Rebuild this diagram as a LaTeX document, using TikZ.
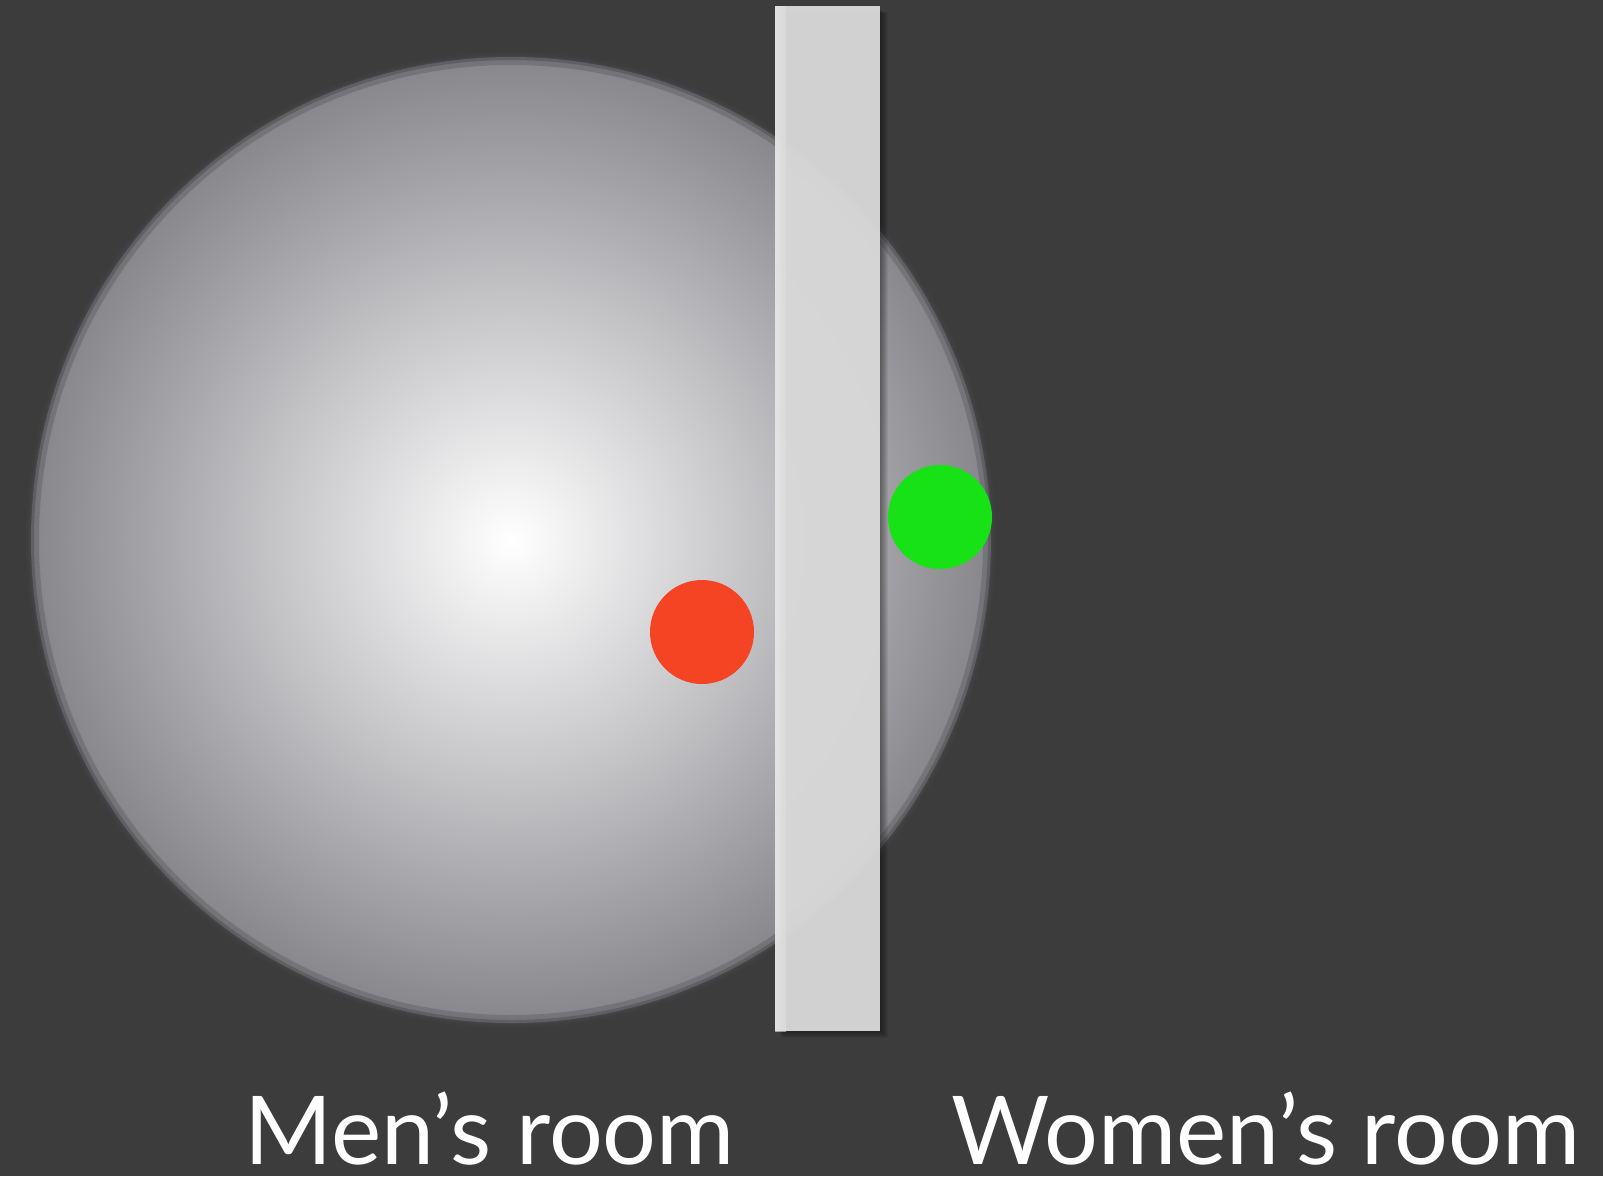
\documentclass[tikz,border=0pt]{standalone}
\usepackage{fontspec}
\setmainfont{Lato}
\definecolor{bg}{RGB}{60,60,60}
\definecolor{edgegray}{RGB}{134,134,139}
\definecolor{midgray}{RGB}{196,196,199}
\definecolor{rimgray}{RGB}{72,72,76}
\definecolor{wallc}{RGB}{223,223,223}
\definecolor{wallhi}{RGB}{232,232,232}
\definecolor{reddot}{RGB}{244,68,36}
\definecolor{greendot}{RGB}{22,226,22}
\pgfdeclareradialshading{glow}{\pgfpoint{0bp}{0bp}}{color(0bp)=(white); color(12.5bp)=(midgray); color(25bp)=(edgegray); color(50bp)=(edgegray)}
\tikzset{
  dot/.style={circle, inner sep=0pt, minimum size=104pt},
  roomlabel/.style={anchor=base west, inner sep=0pt, text depth=0pt, text=white, font=\fontsize{95}{98}\selectfont},
}
\begin{document}
\begin{tikzpicture}[x=1pt, y=-1pt]
\fill[bg] (0,0) rectangle (1603,1176);
\useasboundingbox (0,0) rectangle (1603,1176);
% soft outer edge of the sphere
\foreach \w in {10,6,3} {
  \draw[rimgray, opacity=0.2, line width=\w pt] (511,540) ellipse [x radius=480, y radius=483];
}
\shade[shading=glow] (511,540) ellipse [x radius=480, y radius=483];
\draw[rimgray, opacity=0.3, line width=10pt] (511,540) ellipse [x radius=477, y radius=480];
\draw[rimgray, opacity=0.45, line width=4pt] (511,540) ellipse [x radius=479, y radius=482];
% wall shadow
\foreach \i in {1,...,8} {
  \fill[black, opacity=0.06] (775+3+\i*0.5,6+3+\i*0.5) rectangle (880+\i,1030+\i);
}
% wall
\fill[wallc, opacity=0.93] (775,6) rectangle (880,1031);
\shade[left color=wallhi, right color=wallc, opacity=0.6] (775,6) rectangle (786,1031);
% dots
\node[dot, fill=reddot] (red) at (702,632) {};
\node[dot, fill=greendot] (green) at (940,517) {};
% labels
\node[roomlabel] (men) at (244,1164) {Men’s room};
\node[roomlabel] (women) at (951,1164) {Women’s room};
\end{tikzpicture}
\end{document}
